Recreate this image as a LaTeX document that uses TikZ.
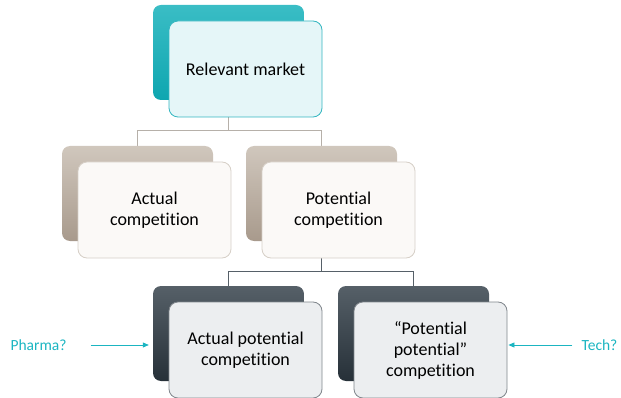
\documentclass[tikz,border=0pt]{standalone}
\usepackage{fontspec}
\setmainfont{Carlito}[Ligatures={NoCommon}]
\usepackage{xcolor}
\usepackage{tikz}
\usetikzlibrary{arrows.meta, positioning, backgrounds}

\definecolor{tealtop}{RGB}{58,189,197}
\definecolor{tealbot}{RGB}{14,166,176}
\definecolor{tealfill}{RGB}{229,246,248}
\definecolor{tealline}{RGB}{52,182,192}
\definecolor{tantop}{RGB}{208,199,189}
\definecolor{tanbot}{RGB}{168,154,140}
\definecolor{tanfill}{RGB}{251,249,247}
\definecolor{tanline}{RGB}{214,207,199}
\definecolor{slatetop}{RGB}{86,96,104}
\definecolor{slatebot}{RGB}{38,48,56}
\definecolor{slatefill}{RGB}{236,238,240}
\definecolor{slateline}{RGB}{128,134,140}
\definecolor{askcol}{RGB}{27,181,193}

\begin{document}
\begin{tikzpicture}[x=1pt, y=-1pt,
    backbox/.style={rounded corners=8pt, minimum width=151pt, minimum height=95pt, inner sep=0pt},
    frontbox/.style={rounded corners=9pt, minimum width=153pt, minimum height=96pt, inner sep=0pt,
      align=center, font=\fontsize{18}{21}\selectfont, line width=0.8pt},
    uplink/.style={draw=tanline!85!black, line width=0.8pt},
    lowlink/.style={draw=slatetop, line width=0.8pt},
    ask/.style={text=askcol, inner sep=0pt, font=\fontsize{15.5}{18}\selectfont},
    askarrow/.style={draw=askcol, line width=0.8pt, -{Triangle[length=6pt, width=5pt]}}]

  \useasboundingbox (0,0) rectangle (621,398);

  % Relevant market
  \node[backbox, top color=tealtop, bottom color=tealbot] (topback) at (228.5,52.5) {};
  \node[frontbox, draw=tealline, fill=tealfill] (topfront) at ([shift={(17,16.5)}]topback.center) {Relevant market};

  % Actual / potential competition
  \node[backbox, top color=tantop, bottom color=tanbot] (leftback) at (137.5,193.5) {};
  \node[frontbox, draw=tanline, fill=tanfill] (leftfront) at ([shift={(17,16.5)}]leftback.center) {Actual\\competition};
  \node[backbox, top color=tantop, bottom color=tanbot] (rightback) at (321.5,193.5) {};
  \node[frontbox, draw=tanline, fill=tanfill] (rightfront) at ([shift={(17,16.5)}]rightback.center) {Potential\\competition};

  % Two kinds of potential competition
  \node[backbox, top color=slatetop, bottom color=slatebot] (actpotback) at (228.5,333.5) {};
  \node[frontbox, draw=slateline, fill=slatefill] (actpotfront) at ([shift={(17,16.5)}]actpotback.center) {Actual potential\\competition};
  \node[backbox, top color=slatetop, bottom color=slatebot] (potpotback) at (413.5,333.5) {};
  \node[frontbox, draw=slateline, fill=slatefill] (potpotfront) at ([shift={(17,16.5)}]potpotback.center) {``Potential\\potential''\\competition};

  % Connectors
  \begin{scope}[on background layer]
    \draw[uplink] (topback.south) -- ([yshift=-30pt]topback.south);
    \draw[uplink] (leftback.north) |- ([yshift=-30pt]topback.south) -| (rightback.north);
    \draw[lowlink] (rightback.south) -- ([yshift=-30pt]rightback.south);
    \draw[lowlink] (actpotback.north) |- ([yshift=-30pt]rightback.south) -| (potpotback.north);
  \end{scope}

  % Examples
  \node[ask] (pharma) at (38.5,345) {Pharma?};
  \draw[askarrow, shorten <=24pt, shorten >=4pt] (pharma.east) -- (pharma.east -| actpotback.west);
  \node[ask] (tech) at (599.5,345) {Tech?};
  \draw[askarrow, shorten <=9pt, shorten >=1pt] (tech.west) -- (tech.west -| potpotfront.east);

\end{tikzpicture}
\end{document}
